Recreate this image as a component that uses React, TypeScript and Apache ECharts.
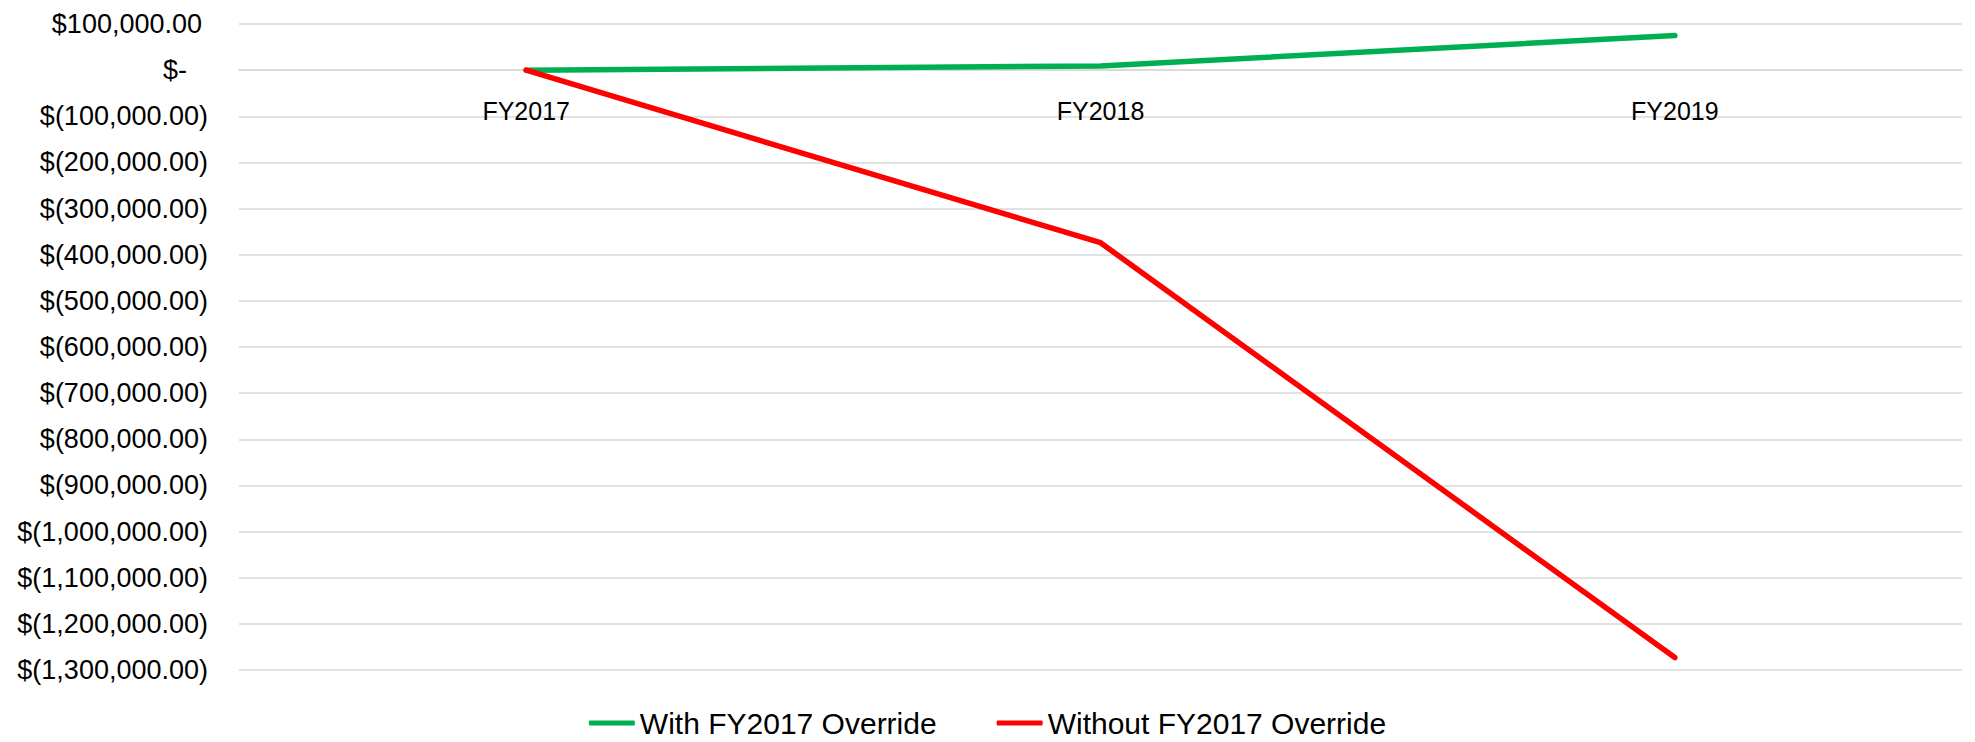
import React, { useEffect, useRef } from "react";
import * as echarts from "echarts";

const categories = ["FY2017", "FY2018", "FY2019"];
const withOverride = [0, 9000, 75000];
const withoutOverride = [0, -374000, -1273000];
const seriesNames = ["With FY2017 Override", "Without FY2017 Override"];
const yMin = -1300000;
const yMax = 100000;
const yStep = 100000;

function fmtMoney(v: number): string {
  if (v === 0) return "{z|$-}";
  const abs = Math.abs(v);
  const s = abs.toLocaleString("en-US", { minimumFractionDigits: 2, maximumFractionDigits: 2 });
  if (v < 0) return "{n|$(" + s + ")}";
  return "{p|$" + s + "}";
}

export default function App() {
  const ref = useRef<HTMLDivElement>(null);
  useEffect(() => {
    if (!ref.current) return;
    const chart = echarts.init(ref.current, null, { renderer: "svg" });
    const font = "Liberation Sans";
    chart.setOption({
      animation: false,
      backgroundColor: "#ffffff",
      textStyle: { fontFamily: font, color: "#000" },
      grid: { left: 239, right: 13, top: 24, bottom: 72, containLabel: false, outerBoundsMode: "none" },
      legend: {
        data: seriesNames,
        left: "center",
        top: 708,
        padding: 0,
        icon: "roundRect",
        itemWidth: 46,
        itemHeight: 5,
        itemGap: 60,
        textStyle: { fontFamily: font, fontSize: 30, lineHeight: 30, color: "#000" },
      },
      xAxis: {
        type: "category",
        data: categories,
        boundaryGap: true,
        axisLine: { show: true, onZero: true, lineStyle: { color: "#D9D9D9", width: 1.5 } },
        axisTick: { show: false },
        axisLabel: { fontFamily: font, fontSize: 25, color: "#000", margin: -572 },
        splitLine: { show: false },
      },
      yAxis: {
        type: "value",
        min: yMin,
        max: yMax,
        interval: yStep,
        axisLine: { show: false },
        axisTick: { show: false },
        splitLine: { show: true, lineStyle: { color: "#D9D9D9", width: 1.5 } },
        axisLabel: {
          margin: 31,
          formatter: (v: number) => fmtMoney(v),
          rich: {
            p: { fontFamily: font, fontSize: 27, color: "#000", padding: [0, 6, 0, 0] },
            n: { fontFamily: font, fontSize: 27, color: "#000" },
            z: { fontFamily: font, fontSize: 27, color: "#000", padding: [0, 21, 0, 0] },
          },
        },
      },
      series: [
        {
          name: seriesNames[0],
          type: "line",
          data: withOverride,
          showSymbol: false,
          symbol: "none",
          color: "#00B050",
          lineStyle: { color: "#00B050", width: 5.5, cap: "round", join: "round" },
        },
        {
          name: seriesNames[1],
          type: "line",
          data: withoutOverride,
          showSymbol: false,
          symbol: "none",
          color: "#FF0000",
          lineStyle: { color: "#FF0000", width: 5.5, cap: "round", join: "round" },
        },
      ],
    });
    return () => chart.dispose();
  }, []);
  return (
    <div
      ref={ref}
      style={{ position: "absolute", left: 0, top: 0, width: 1975, height: 742 }}
    />
  );
}
